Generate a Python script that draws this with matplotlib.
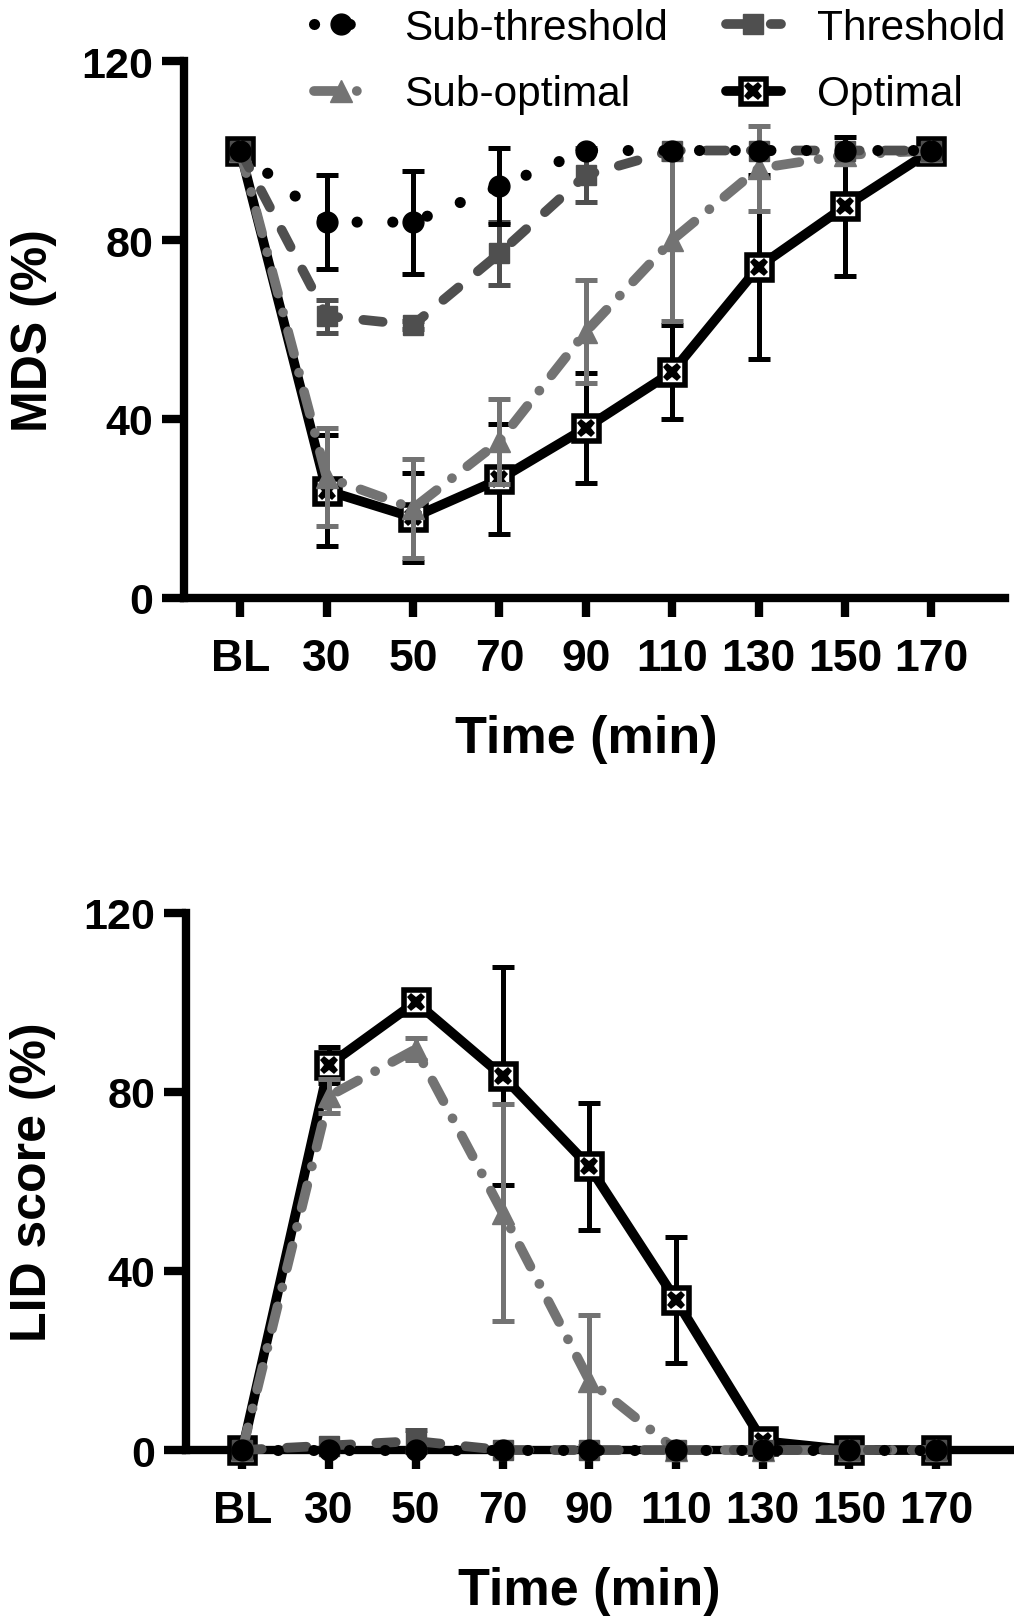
import numpy as np
import matplotlib
matplotlib.use("Agg")
import matplotlib.pyplot as plt

plt.rcParams['font.family'] = ['Liberation Sans', 'DejaVu Sans']

# ---------------- data ----------------
time_labels = ['BL', '30', '50', '70', '90', '110', '130', '150', '170']
series_names = ['Sub-threshold', 'Threshold', 'Sub-optimal', 'Optimal']

mds_sub_threshold = [100, 84, 84, 92, 100, 100, 100, 100, 100]
mds_sub_threshold_err = [0, 10.5, 11.5, 8.5, 0, 0, 0, 0, 0]
mds_threshold = [100, 63, 61, 77, 94.5, 100, 100, 100, 100]
mds_threshold_err = [0, 3.7, 1, 7, 6, 0, 0, 0, 0]
mds_sub_optimal = [100, 27, 20, 35, 59.5, 80, 96, 99, 100]
mds_sub_optimal_err = [0, 11, 11, 9.5, 11.5, 18, 9.5, 0, 0]
mds_optimal = [100, 24, 18, 26.5, 38, 50.5, 74, 87.5, 100]
mds_optimal_err = [0, 12.5, 10, 12.3, 12.3, 10.5, 20.5, 15.6, 0]

lid_sub_threshold = [0, 0, 0, 0, 0, 0, 0, 0, 0]
lid_sub_threshold_err = [0, 0, 0, 0, 0, 0, 0, 0, 0]
lid_threshold = [0, 1, 2, 0, 0, 0, 0, 0, 0]
lid_threshold_err = [0, 0, 2.5, 0, 0, 0, 0, 0, 0]
lid_sub_optimal = [0, 79, 89.5, 53, 15.5, 0, 0, 0, 0]
lid_sub_optimal_err = [0, 3.8, 2.5, 24.3, 14.6, 0, 0, 0, 0]
lid_optimal = [0, 86, 100, 83.5, 63.3, 33.5, 2, 0, 0]
lid_optimal_err = [0, 4, 1, 24.3, 14.2, 14, 0, 0, 0]

y_ticks = [0, 40, 80, 120]

# ---------------- styles ----------------
C_BLACK = '#000000'
C_DARK = '#4f4f4f'
C_GREY = '#737373'

styles = {
    'Sub-threshold': dict(color=C_BLACK, ls=(0, (0.01, 3.2)), lw=8, marker='o', ms=15,
                          mfc=C_BLACK, mec=C_BLACK, z=6),
    'Threshold': dict(color=C_DARK, ls=(0, (2.0, 2.6)), lw=7, marker='s', ms=15,
                      mfc=C_DARK, mec=C_DARK, z=5),
    'Sub-optimal': dict(color=C_GREY, ls=(0, (2.4, 2.0, 0.01, 2.0)), lw=7, marker='^', ms=16,
                        mfc=C_GREY, mec=C_GREY, z=4),
    'Optimal': dict(color=C_BLACK, ls='-', lw=7, marker='s', ms=18,
                    mfc='white', mec=C_BLACK, z=3),
}

fig = plt.figure(figsize=(10.14, 16.24), dpi=100)
ax1 = fig.add_axes([0.1815, 0.6312, 0.8095, 0.3306])
ax2 = fig.add_axes([0.1834, 0.1065, 0.8126, 0.3310])

x = np.arange(len(time_labels))


def draw(ax, data):
    handles = {}
    for name in series_names:
        y, err = data[name]
        st = styles[name]
        y = np.asarray(y, float)
        err = np.asarray(err, float)
        m = err > 0
        if m.any():
            ax.errorbar(x[m], y[m], yerr=err[m], fmt='none', ecolor=st['color'],
                        elinewidth=3.6, capsize=8, capthick=3.6, zorder=st['z'] - 0.5,
                        clip_on=False)
        ln, = ax.plot(x, y, color=st['color'], ls=st['ls'], lw=st['lw'],
                      marker=st['marker'], ms=st['ms'], mfc=st['mfc'], mec=st['mec'],
                      mew=4 if name == 'Optimal' else 1,
                      dash_capstyle='round', solid_capstyle='round',
                      zorder=st['z'], clip_on=False, label=name)
        if name == 'Optimal':
            xm, = ax.plot(x, y, ls='none', marker='X', ms=13, mfc=C_BLACK, mec=C_BLACK,
                          mew=0, zorder=st['z'] + 0.1, clip_on=False)
            handles[name] = (ln, xm)
        else:
            handles[name] = ln
    ax.set_xlim(-0.65, 8.85)
    ax.set_ylim(0, 120)
    ax.set_yticks(y_ticks)
    ax.set_xticks(x)
    ax.set_xticklabels(time_labels)
    for s in ['top', 'right']:
        ax.spines[s].set_visible(False)
    for s in ['left', 'bottom']:
        ax.spines[s].set_linewidth(6)
    ax.tick_params(axis='y', length=16, width=6, pad=6, labelsize=31)
    ax.tick_params(axis='x', length=14, width=6, pad=15, labelsize=32)
    for lab in ax.get_xticklabels() + ax.get_yticklabels():
        lab.set_fontweight('bold')
    ax.set_xlabel('Time (min)', fontsize=37.5, fontweight='bold')
    ax.xaxis.set_label_coords(0.490, -0.262)
    ax.xaxis.label.set_va('center')
    return handles


h = draw(ax1, {
    'Sub-threshold': (mds_sub_threshold, mds_sub_threshold_err),
    'Threshold': (mds_threshold, mds_threshold_err),
    'Sub-optimal': (mds_sub_optimal, mds_sub_optimal_err),
    'Optimal': (mds_optimal, mds_optimal_err),
})
draw(ax2, {
    'Sub-threshold': (lid_sub_threshold, lid_sub_threshold_err),
    'Threshold': (lid_threshold, lid_threshold_err),
    'Sub-optimal': (lid_sub_optimal, lid_sub_optimal_err),
    'Optimal': (lid_optimal, lid_optimal_err),
})

ax1.set_ylabel('MDS (%)', fontsize=36, fontweight='bold')
ax1.yaxis.set_label_coords(-0.183, 0.5)
ax1.yaxis.label.set_va('center')
ax2.set_ylabel('LID score (%)', fontsize=36, fontweight='bold')
ax2.yaxis.set_label_coords(-0.186, 0.5)
ax2.yaxis.label.set_va('center')

order = ['Sub-threshold', 'Sub-optimal', 'Threshold', 'Optimal']
fig.legend([h[n] for n in order], order, loc='upper left',
           bbox_to_anchor=(0.305, 0.997), ncol=2, frameon=False, fontsize=30.5,
           handlelength=1.3, handletextpad=0.85, columnspacing=1.35,
           labelspacing=0.62, borderpad=0.1, borderaxespad=0)

fig.savefig('out.png', dpi=100)
